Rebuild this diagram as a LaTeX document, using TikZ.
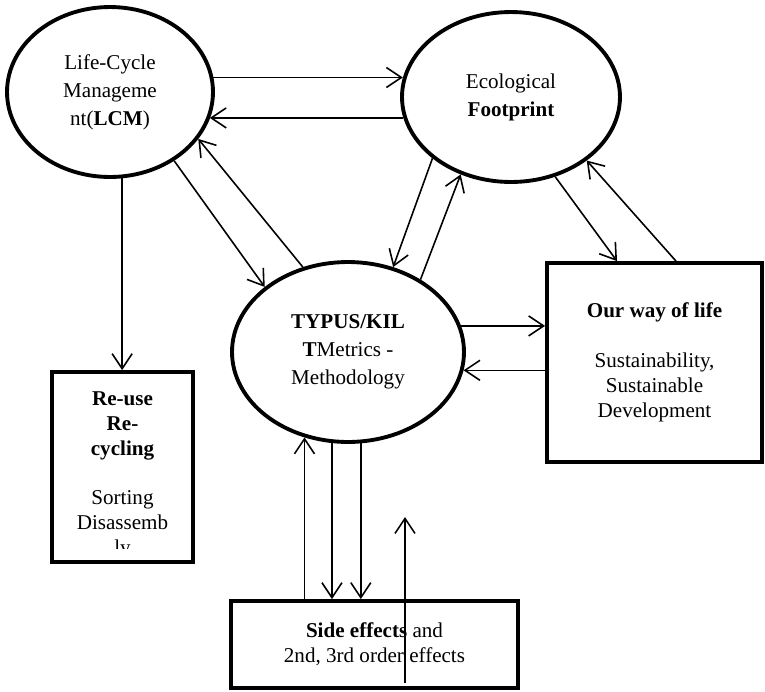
\documentclass[tikz,border=0pt]{standalone}
\usepackage{fontspec}
\setmainfont{Liberation Serif}
\usetikzlibrary{calc,positioning,arrows.meta,shapes.geometric}

\begin{document}
\begin{tikzpicture}[x=0.02cm,y=-0.02cm,
  arr/.style={-{Straight Barb[length=3mm,width=4mm]},line width=0.9pt},
  bubble/.style={ellipse,draw,line width=2.2pt,inner sep=0pt,align=center,font=\fontsize{12}{16}\selectfont},
  panel/.style={rectangle,draw,line width=2.2pt,inner sep=0pt,align=center,font=\fontsize{12}{14.2}\selectfont}]
\useasboundingbox (0,0) rectangle (765,691);
% ellipses
\node[bubble,minimum width=4.12cm,minimum height=3.4cm](lcm)at(110,92){Life-Cycle\\Manageme\\nt(\textbf{LCM})};
\node[bubble,minimum width=4.36cm,minimum height=3.4cm](eco)at(511,97){Ecological\\\textbf{Footprint}};
\node[bubble,minimum width=4.64cm,minimum height=3.6cm](typ)at(348,352){\textbf{TYPUS/KIL}\\\textbf{T}Metrics -\\Methodology};
% boxes
\node[panel,minimum width=4.3cm,minimum height=3.98cm](way)at(654.5,362.5){\textbf{Our way of life}\\[\baselineskip]Sustainability,\\Sustainable\\Development};
\node[panel,minimum width=2.82cm,minimum height=3.8cm](reuse)at(122.5,467){};
\node[panel,minimum width=5.74cm,minimum height=1.74cm](side)at(374.5,644.5){\textbf{Side effects} and\\2nd, 3rd order effects};
\begin{scope}
\clip(52,372)rectangle(193,548);
\node[anchor=north,inner sep=0pt,align=center,font=\fontsize{12}{14.2}\selectfont](reusetxt)at(122.5,391){\textbf{Re-use}\\\textbf{Re-}\\\textbf{cycling}\\[\baselineskip]Sorting\\Disassemb\\ly};
\end{scope}
% connectors
\draw[arr](lcm.8)--(lcm.8-|eco.170);
\draw[arr](eco.191)--(eco.191-|lcm.-15);
\draw[arr](lcm.-82)--(lcm.-82|-reuse.north);
\draw[arr](lcm.-47.5)--(typ.142.6);
\draw[arr](typ.118.2)--(lcm.-28.5);
\draw[arr](eco.218.2)--(typ.62.4);
\draw[arr](typ.45)--(eco.237.7);
\draw[arr](eco.-61.2)--([xshift=-0.75cm]way.north);
\draw[arr]([xshift=0.43cm]way.north)--(eco.-40.5);
\draw[arr](typ.13.2)--(typ.13.2-|way.west);
\draw[arr](typ.-9.5-|way.west)--(typ.-9.5);
\draw[arr](typ.-117.8|-side.north)--(typ.-117.8);
\draw[arr](typ.-100.2)--(typ.-100.2|-side.north);
\draw[arr](typ.-82.4)--(typ.-82.4|-side.north);
\coordinate(s0)at(405,683);
\coordinate(s1)at(405,517);
\draw[arr](s0)--(s1);
\end{tikzpicture}
\end{document}
